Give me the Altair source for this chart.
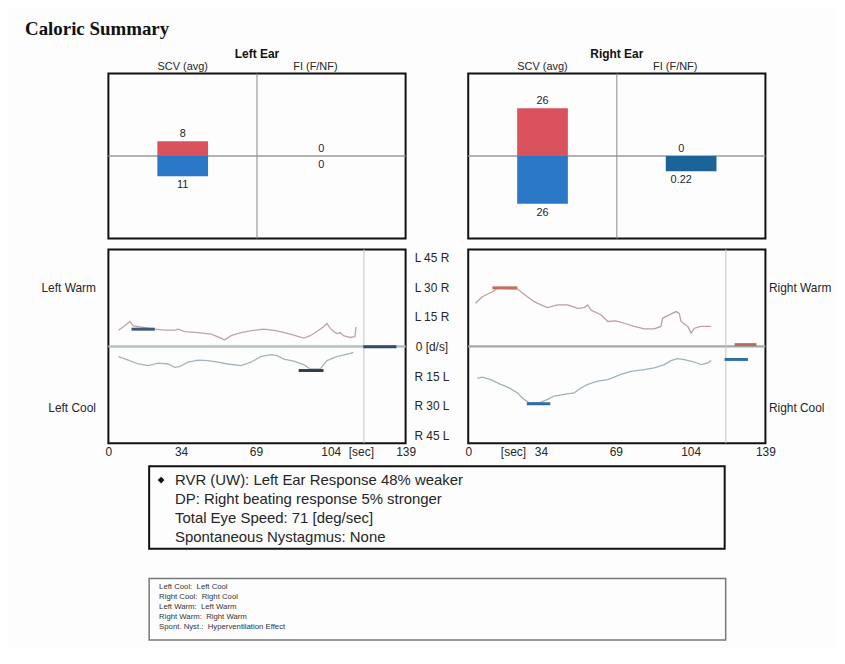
import altair as alt
import pandas as pd

FONT = "Liberation Sans"
INK = "#262626"

# ---------------- top summary bars ----------------
columns = ["SCV (avg)", "FI (F/NF)"]
ears = ["Left Ear", "Right Ear"]
scv_warm = [8, 26]
scv_cool = [11, 26]
fi_warm = [0, 0]
fi_cool = [0, 0.22]

# ---------------- slow phase velocity traces ----------------
lw_t = [4.7, 7.7, 10.1, 11.6, 21.7, 26.4, 31.0, 32.6, 35.7, 41.9, 48.1, 52.7, 54.3, 57.4, 62.0, 67.0,
        72.7, 78.9, 85.1, 91.3, 94.4, 97.5, 100.6, 102.2, 103.7, 105.3, 106.8, 108.4, 109.9, 113.0, 115.3, 115.8]
lw_v = [8.2, 10.4, 12.6, 10.4, 8.7, 8.2, 8.2, 8.7, 7.5, 7.0, 6.2, 4.2, 3.2, 5.4, 7.0, 8.0,
        8.7, 7.9, 6.2, 4.2, 5.4, 7.5, 9.9, 11.6, 9.2, 7.5, 6.5, 7.0, 5.4, 4.5, 4.9, 9.9]
lc_t = [4.7, 9.3, 14.0, 18.6, 23.3, 27.9, 31.0, 33.3, 37.2, 41.9, 46.5, 51.2, 55.8, 62.0, 66.7,
        71.2, 75.8, 78.9, 82.0, 86.7, 91.3, 94.4, 99.1, 102.2, 106.8, 113.0, 114.6]
lc_v = [-5.2, -6.9, -8.9, -9.7, -8.5, -8.9, -10.6, -10.2, -8.0, -6.9, -7.2, -8.0, -8.9, -9.7, -8.0,
        -5.2, -4.2, -4.7, -6.4, -7.5, -9.2, -11.4, -11.4, -7.2, -5.2, -3.5, -3.0]
rw_t = [3.4, 6.6, 11.3, 13.6, 23.0, 27.7, 30.8, 34.0, 37.1, 41.8, 46.5, 51.2, 54.3, 55.9, 57.4, 62.1,
        65.3, 69.0, 72.9, 77.6, 82.3, 87.0, 90.1, 90.9, 94.0, 97.2, 98.7, 99.5, 102.7, 104.2, 105.8, 108.9, 113.6]
rw_v = [21.8, 25.1, 27.6, 29.3, 29.0, 25.1, 22.6, 21.0, 19.6, 21.0, 21.0, 19.2, 19.6, 21.0, 18.4, 15.9,
        12.6, 12.9, 11.7, 10.1, 8.9, 8.9, 10.1, 14.2, 15.9, 17.6, 16.7, 12.6, 10.1, 6.7, 9.2, 10.1, 10.1]
rc_t = [4.2, 6.6, 10.5, 15.2, 19.1, 23.0, 26.1, 28.5, 33.2, 37.1, 40.2, 44.9, 49.6, 52.7, 55.9, 60.6,
        65.3, 71.4, 76.1, 82.3, 87.0, 91.7, 94.8, 98.0, 101.1, 105.8, 108.9, 112.1, 113.6]
rc_v = [-16.2, -15.6, -16.8, -19.2, -21.0, -23.5, -26.8, -28.5, -28.5, -26.8, -25.1, -24.3, -23.5, -21.0, -19.2, -17.6,
        -16.8, -14.2, -12.6, -11.7, -10.9, -9.2, -7.2, -6.2, -6.7, -7.9, -9.2, -8.4, -7.2]

# average / spontaneous markers
mk_panel = ["L", "L", "L", "R", "R", "R", "R"]
mk_series = ["LW avg", "LC avg", "L spont", "RW avg", "RC avg", "R spont warm", "R spont cool"]
mk_t0 = [10.8, 89.0, 119.2, 11.3, 27.4, 124.6, 119.9]
mk_t1 = [21.7, 100.6, 134.7, 23.0, 38.4, 134.8, 130.8]
mk_v = [8.7, -12.2, -0.2, 29.6, -29.0, 0.9, -6.6]
sep_t = [119.5, 120.5]

x_ticks = [0, 34, 69, 104, 139]
lr_ticks = [45, 30, 15, 0, -15, -30, -45]

summary_lines = [
    "RVR (UW): Left Ear Response 48% weaker",
    "DP: Right beating response 5% stronger",
    "Total Eye Speed: 71 [deg/sec]",
    "Spontaneous Nystagmus: None",
]
legend_lines = [
    "Left Cool:\u00a0\u00a0Left Cool",
    "Right Cool:\u00a0\u00a0Right Cool",
    "Left Warm:\u00a0\u00a0Left Warm",
    "Right Warm:\u00a0\u00a0Right Warm",
    "Spont. Nyst.:\u00a0\u00a0Hyperventilation Effect",
]

RED = "#d9525e"
BLUE = "#2b79c6"
DBLUE = "#1b6498"

# one colour scale for the whole page (concat shares colour scales)
color_dom = ["SCV warm", "SCV cool", "FI warm", "FI cool",
             "Left Warm", "Left Cool", "Right Warm", "Right Cool",
             "LW avg", "LC avg", "L spont", "RW avg", "RC avg", "R spont warm", "R spont cool"]
color_rng = [RED, BLUE, RED, DBLUE,
             "#bea3a8", "#9fb6bb", "#bba0a3", "#9fb3ba",
             "#3d5a7c", "#3a3a46", "#2d4b6e", "#c2705e", "#2f6da3", "#b86c5e", "#2f6da3"]
color_scale = alt.Scale(domain=color_dom, range=color_rng)

PW = 299


def side_axis(orient, values, expr, pad, align=None):
    kw = dict(orient=orient, values=values, labelExpr=expr, ticks=False, domain=False,
              grid=False, labelPadding=pad, labelFontSize=12, labelFont=FONT, labelColor=INK, title=None)
    if align:
        kw["labelAlign"] = align
    return alt.Axis(**kw)


def top_panel(i, side):
    df = pd.DataFrame({
        "col": [columns[0], columns[0], columns[1], columns[1]],
        "part": ["SCV warm", "SCV cool", "FI warm", "FI cool"],
        "v": [scv_warm[i], -scv_cool[i], fi_warm[i], -fi_cool[i]],
        "zero": [0, 0, 0, 0],
        "label": [f"{scv_warm[i]:g}", f"{scv_cool[i]:g}", f"{fi_warm[i]:g}", f"{fi_cool[i]:g}"],
        "warm": [True, False, True, False],
    })
    xs = alt.Scale(domain=columns, paddingInner=0, paddingOuter=0)
    X = alt.X("col:N", scale=xs, axis=None)
    color = alt.Color("part:N", legend=None, scale=color_scale)
    if side == "L":
        ax = side_axis("left", [23, -25], "datum.value > 0 ? 'Left Warm' : 'Left Cool'", 13)
    else:
        ax = side_axis("right", [23, -25], "datum.value > 0 ? 'Right Warm' : 'Right Cool'", 3)

    def part(data, dom, axis, fi):
        Y = alt.Y("v:Q", scale=alt.Scale(domain=dom, nice=False, zero=False), axis=axis, title=None)
        Yn = alt.Y("v:Q", scale=alt.Scale(domain=dom, nice=False, zero=False), axis=None, title=None)
        dx = -10 if fi else 0
        base = alt.Chart(data)
        bars = base.mark_bar(width=51).encode(x=X, y=Y, y2="zero:Q", color=color)
        above = base.transform_filter("datum.warm").mark_text(
            baseline="bottom", dy=-2, dx=dx, fontSize=11, font=FONT, color=INK
        ).encode(x=X, y=Yn, text="label:N")
        below = base.transform_filter("!datum.warm").mark_text(
            baseline="top", dy=3, dx=dx, fontSize=11, font=FONT, color=INK
        ).encode(x=X, y=Yn, text="label:N")
        return [bars, above, below], Yn

    scv_marks, Ys = part(df[df.col == columns[0]], [-45, 45], ax, False)
    fi_marks, _ = part(df[df.col == columns[1]], [-1.2, 1.2], None, True)

    zero = alt.Chart(pd.DataFrame({"v": [0]})).mark_rule(color="#9a9a9a", strokeWidth=1.5).encode(y=Ys)
    divider = alt.Chart(pd.DataFrame({"col": [columns[1]]})).mark_rule(color="#8a8a8a", strokeWidth=1).encode(
        x=alt.X("col:N", scale=xs, axis=None, bandPosition=0))
    hdr = pd.DataFrame({"col": columns})
    h1 = alt.Chart(hdr.iloc[:1]).mark_text(baseline="middle", fontSize=11, font=FONT, color=INK).encode(
        x=X, y=alt.value(-7), text="col:N")
    h2 = alt.Chart(hdr.iloc[1:]).mark_text(baseline="middle", fontSize=11, font=FONT, color=INK, dx=-16).encode(
        x=X, y=alt.value(-7), text="col:N")

    scv_layer = alt.layer(zero, divider, *scv_marks, h1, h2)
    fi_layer = alt.layer(*fi_marks)
    return alt.layer(scv_layer, fi_layer).resolve_scale(y="independent").properties(
        width=PW, height=166,
        title=alt.TitleParams(ears[i], fontSize=12, fontWeight="bold", font=FONT, anchor="middle",
                              offset=0, color="#111"))


def bottom_panel(side):
    if side == "L":
        tr = pd.concat([
            pd.DataFrame({"t": lw_t, "v": lw_v, "series": "Left Warm"}),
            pd.DataFrame({"t": lc_t, "v": lc_v, "series": "Left Cool"}),
        ])
        sep = [sep_t[0]]
        title_x = 254
        zcol, zw = "#b3c1c1", 2.5
    else:
        tr = pd.concat([
            pd.DataFrame({"t": rw_t, "v": rw_v, "series": "Right Warm"}),
            pd.DataFrame({"t": rc_t, "v": rc_v, "series": "Right Cool"}),
        ])
        sep = [sep_t[1]]
        title_x = 45
        zcol, zw = "#a8a8a8", 2.2
    mk = pd.DataFrame({"panel": mk_panel, "series": mk_series, "t0": mk_t0, "t1": mk_t1, "v": mk_v})
    mk = mk[mk.panel == side]

    xs = alt.Scale(domain=[0, 139], nice=False, zero=False)
    ys = alt.Scale(domain=[-49, 49], nice=False, zero=False)
    xaxis = alt.Axis(values=x_ticks, ticks=False, domain=False, grid=False, labelPadding=3,
                     labelFontSize=12, labelFont=FONT, labelColor=INK, labelFlush=False,
                     title="[sec]", titleX=title_x, titleY=3, titleAlign="center", titleBaseline="top",
                     titleFontWeight="normal", titleFontSize=12, titleFont=FONT, titleColor=INK)
    if side == "L":
        trace_axis = side_axis("left", [30, -31], "datum.value > 0 ? 'Left Warm' : 'Left Cool'", 13)
        zero_axis = side_axis(
            "right", lr_ticks,
            "datum.value > 0 ? 'L ' + datum.value + ' R' : (datum.value < 0 ? 'R ' + (-datum.value) + ' L' : '0 [d/s]')",
            26, "center")
    else:
        trace_axis = side_axis("right", [30, -31], "datum.value > 0 ? 'Right Warm' : 'Right Cool'", 3)
        zero_axis = None

    zero = alt.Chart(pd.DataFrame({"v": [0]})).mark_rule(color=zcol, strokeWidth=zw).encode(
        y=alt.Y("v:Q", scale=ys, axis=zero_axis, title=None))
    sepl = alt.Chart(pd.DataFrame({"t": sep})).mark_rule(color="#c4c4c4", strokeWidth=1).encode(
        x=alt.X("t:Q", scale=xs, axis=xaxis))
    lines = alt.Chart(tr).mark_line(strokeWidth=1.3).encode(
        x=alt.X("t:Q", scale=xs, axis=xaxis),
        y=alt.Y("v:Q", scale=ys, axis=trace_axis, title=None),
        color=alt.Color("series:N", scale=color_scale, legend=None))
    marks = alt.Chart(mk).mark_rule(strokeWidth=3).encode(
        x=alt.X("t0:Q", scale=xs, axis=xaxis), x2="t1:Q",
        y=alt.Y("v:Q", scale=ys, axis=None, title=None),
        color=alt.Color("series:N", scale=color_scale, legend=None))
    return alt.layer(zero, sepl, lines, marks).resolve_axis(y="independent").properties(width=PW, height=195)


def spacer(w, h):
    return alt.Chart(pd.DataFrame({"s": [0]})).mark_point(opacity=0).encode(
        x=alt.X("s:Q", axis=None), y=alt.Y("s:Q", axis=None)
    ).properties(width=w, height=h, view=alt.ViewBackground(stroke="transparent"))


summ = pd.DataFrame({"i": list(range(len(summary_lines))), "line": summary_lines})
ysum = alt.Y("i:O", scale=alt.Scale(type="point", range=[14, 71], padding=0), axis=None)
summary_text = alt.Chart(summ).mark_text(align="left", baseline="middle", fontSize=15, font=FONT, color=INK).encode(
    x=alt.value(26), y=ysum, text="line:N")
bullet = alt.Chart(summ.iloc[:1]).mark_point(shape="diamond", filled=True, size=45, color="#111", opacity=1).encode(
    x=alt.value(12), y=ysum)
summary = alt.layer(summary_text, bullet).properties(
    width=579, height=83, view=alt.ViewBackground(stroke="#111", strokeWidth=2))

leg = pd.DataFrame({"i": list(range(len(legend_lines))), "line": legend_lines})
legend_box = alt.Chart(leg).mark_text(align="left", baseline="middle", fontSize=7.8, font=FONT, color="#333").encode(
    x=alt.value(10),
    y=alt.Y("i:O", scale=alt.Scale(type="point", range=[9, 49], padding=0), axis=None),
    text="line:N").properties(width=580, height=62, view=alt.ViewBackground(stroke="#777", strokeWidth=1.5))

row1 = alt.hconcat(top_panel(0, "L"), top_panel(1, "R"), spacing=59)
row2 = alt.hconcat(bottom_panel("L"), bottom_panel("R"), spacing=13)
row3 = alt.hconcat(spacer(39, 104), summary, spacing=0)
row4 = alt.hconcat(spacer(39, 62), legend_box, spacing=0)

chart = alt.vconcat(row1, row2, row3, row4, spacing=7).properties(
    title=alt.TitleParams("Caloric Summary", font="Liberation Serif", fontSize=19, fontWeight="bold",
                          anchor="start", dx=-15, offset=8, color="#111"),
    padding={"left": 17, "top": 10, "right": 5, "bottom": 5},
    background="#fdfdfd",
).configure(font=FONT).configure_view(stroke="#111", strokeWidth=2)

chart.save("out.html", embed_options={"renderer": "svg", "actions": False})
